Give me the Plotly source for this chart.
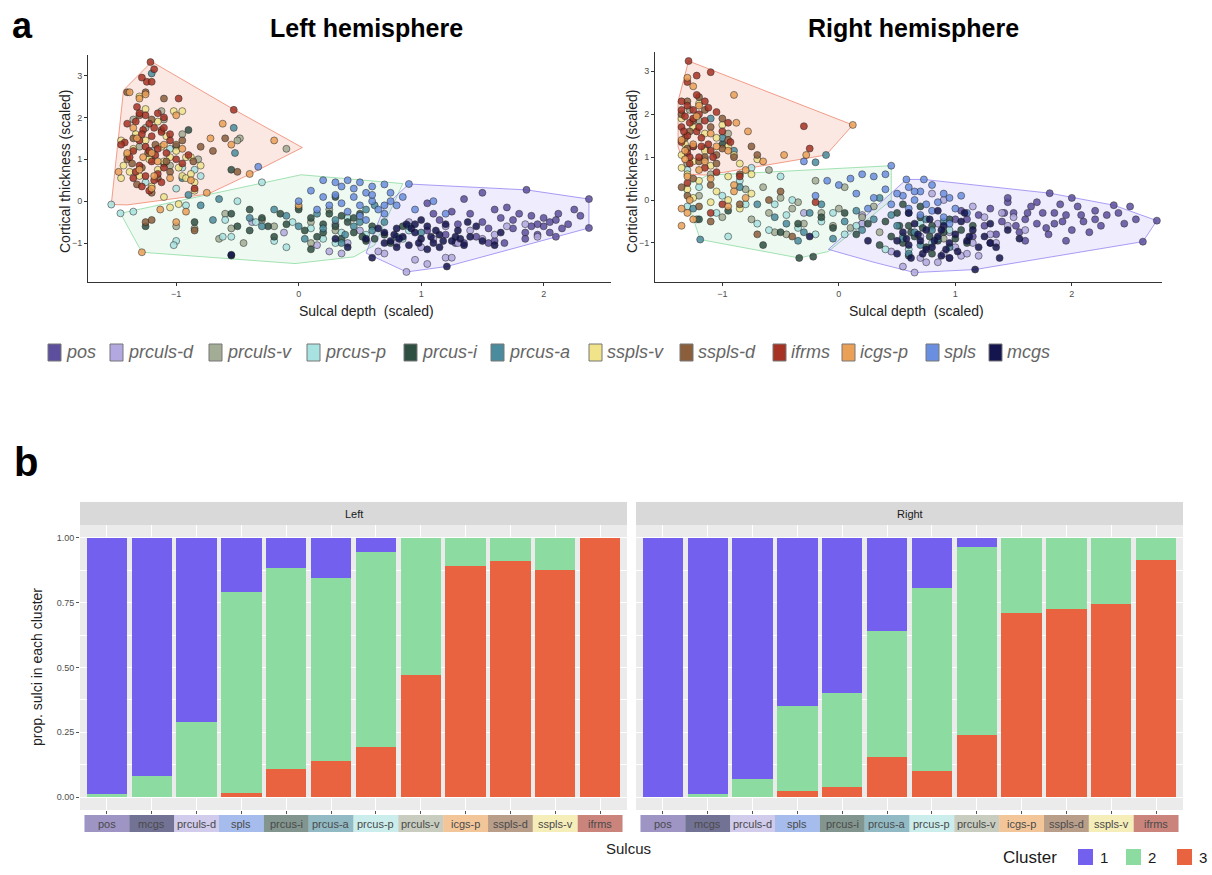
import plotly.graph_objects as go

W, H = 1212, 875

# ---------------- data ----------------
SULCI = ["pos", "prculs-d", "prculs-v", "prcus-p", "prcus-i", "prcus-a",
         "sspls-v", "sspls-d", "ifrms", "icgs-p", "spls", "mcgs"]
BAR_ORDER = ["pos", "mcgs", "prculs-d", "spls", "prcus-i", "prcus-a",
             "prcus-p", "prculs-v", "icgs-p", "sspls-d", "sspls-v", "ifrms"]
CLUSTERS = ["1", "2", "3"]

LEFT_C1 = [0.988, 0.92, 0.71, 0.21, 0.115, 0.155, 0.055, 0, 0, 0, 0, 0]
LEFT_C2 = [0.012, 0.08, 0.29, 0.775, 0.775, 0.705, 0.75, 0.53, 0.11, 0.09, 0.125, 0]
LEFT_C3 = [0, 0, 0, 0.015, 0.11, 0.14, 0.195, 0.47, 0.89, 0.91, 0.875, 1.0]
RIGHT_C1 = [1.0, 0.99, 0.93, 0.65, 0.60, 0.36, 0.195, 0.035, 0, 0, 0, 0]
RIGHT_C2 = [0, 0.01, 0.07, 0.325, 0.36, 0.485, 0.705, 0.725, 0.29, 0.275, 0.255, 0.085]
RIGHT_C3 = [0, 0, 0, 0.025, 0.04, 0.155, 0.10, 0.24, 0.71, 0.725, 0.745, 0.915]

# scatter points (sulcal depth, cortical thickness) - left hemisphere
L_ifrms = [(-1.21,3.32),(-1.18,3.15),(-1.24,2.85),(-1.2,2.85),(-1.28,2.95),(-0.98,2.45),(-0.53,2.18),(-1.15,2.1),
           (-1.25,2.05),(-1.33,1.9),(-1.22,1.85),(-1.18,1.75),(-1.27,1.7),(-1.4,1.85),(-1.12,1.65),(-1.2,1.55),
           (-1.3,1.45),(-1.05,1.6),(-1.42,1.4),(-1.35,1.2),(-1.25,1.3),(-1.15,1.25),(-1.08,1.15),(-1.38,1.05),
           (-1.2,0.95),(-1.3,0.85),(-1.1,0.8),(-1.0,1.0),(-1.25,0.6),(-1.35,0.55),(-1.18,0.5),(-1.28,0.35),
           (-1.22,0.25),(-0.95,0.9),(-0.85,0.3),(-1.12,0.45),(-1.45,1.35),(-1.32,2.25),(-1.1,2.0),(-0.9,1.1),
           (-1.28,1.6),(-1.17,1.1),(-1.05,1.45),(-1.33,0.7),(-1.15,0.65),(-1.22,1.2),(-1.1,1.75),(-1.3,2.1)]
L_sspls_v = [(-1.3,2.5),(-1.25,2.2),(-1.02,2.15),(-0.95,2.15),(-1.15,1.9),(-1.08,1.55),(-1.45,1.45),(-1.33,1.6),
             (-1.0,1.2),(-0.92,1.05),(-0.88,1.05),(-1.43,0.85),(-1.38,0.7),(-1.3,0.6),(-1.45,0.55),(-1.22,1.0),
             (-1.15,0.75),(-0.95,0.6),(-0.92,0.55),(-0.85,0.45),(-0.88,0.65),(-1.2,0.35),(-1.1,0.95),(-1.35,1.25),
             (-0.8,0.85),(-1.05,-0.15),(-0.98,-0.07),(-0.85,0.25),(-1.1,0.1),
             (-1.25,1.45),(-1.12,1.3),(-1.4,1.1),(-0.98,0.8),(-1.05,1.05)]
L_sspls_d = [(-1.4,2.6),(-1.25,2.6),(-1.1,2.45),(-1.3,2.05),(-1.2,1.95),(-1.12,1.7),(-1.35,1.5),(-1.0,1.35),
             (-0.7,1.2),(-0.6,1.5),(-0.8,1.3),(-1.4,1.0),(-1.28,0.8),(-1.05,0.7),(-1.2,0.2),(-1.32,0.4),
             (-0.95,1.45),(-1.17,1.35),(-0.5,0.7),(-0.86,0.95),(-1.25,-0.5),(-1.2,-0.45),(-0.85,-0.7),
             (-1.23,1.15),(-1.08,0.95),(-1.36,0.9),(-1.15,0.55)]
L_icgs_p = [(-1.38,2.6),(-1.3,2.45),(-1.25,2.55),(-1.0,2.05),(-0.62,1.85),(-0.72,1.5),(-0.2,1.45),(-0.55,1.35),
            (-1.35,1.75),(-1.4,1.15),(-1.47,0.7),(-1.2,1.15),(-1.1,1.35),(-1.3,0.75),(-1.2,0.3),(-0.4,0.65),
            (-0.88,0.5),(-0.75,0.2),(-1.05,0.55),(-1.15,0.95),(-1.28,-1.22),(-1.0,-0.5),(-1.13,-0.2),(0.0,-0.1),
            (-0.92,-0.25),(-1.27,1.05),(-1.18,0.6),(-1.32,1.5),(-0.95,1.25)]
L_prculs_v = [(-1.35,1.95),(-1.25,1.75),(-1.1,1.95),(-1.12,2.15),(-0.48,1.5),(-0.1,1.25),(-0.95,1.6),(-1.2,1.0),
              (-1.3,1.3),(-0.82,1.0),(-1.05,0.85),(-0.5,1.45),(-1.0,-0.6),(-0.85,-0.65),(-0.6,-0.3),(-0.55,-0.65),
              (-0.3,-0.45),(-0.2,-0.6),(0.1,-0.5),(0.3,-0.7),(0.1,-1.0),(-0.65,-0.9),(-0.45,-1.0),(0.25,-0.2)]
L_prcus_p = [(-0.8,0.6),(-0.85,0.75),(-1.05,1.25),(-0.95,0.8),(-1.2,1.2),(-1.25,0.45),(-1.53,-0.08),(-1.455,-0.29),
             (-1.35,-0.25),(-1.0,0.3),(-0.92,-0.1),(-0.6,-0.45),(-0.55,-0.85),(-0.3,0.45),(-0.5,0.0),(-0.35,-0.5),
             (-0.05,-0.5),(0.0,-0.15),(0.1,-0.65),(0.2,-0.9),(0.4,-0.4),(0.35,-0.75),(-0.62,-0.85),(-0.2,-0.95),
             (-0.1,-1.1),(0.55,-0.8),(0.3,-1.0),(-1.0,-0.95),(-1.02,-1.05),(0.85,-0.9),(0.9,-0.7)]
L_prcus_i = [(-0.55,0.75),(-0.9,1.7),(-1.1,0.9),(-1.25,-0.6),(-0.85,-0.5),(-0.55,-0.3),(-0.55,-1.3),(-0.5,-0.6),
             (-0.4,-0.2),(-0.4,-0.7),(-0.3,-0.4),(-0.25,-0.6),(-0.15,-0.3),(-0.1,-0.55),(0.0,-0.2),(0.05,-0.7),
             (0.1,-0.4),(0.15,-0.85),(0.2,-0.55),(0.25,-0.3),(0.3,-0.6),(0.35,-0.9),(0.4,-0.5),(0.45,-0.75),
             (0.5,-0.3),(0.55,-0.95),(0.6,-0.6),(0.1,-1.15),(-0.2,-0.85),(0.3,0.1),(0.7,-0.8),(0.75,-1.0),
             (0.85,-0.6),(0.45,-0.4),(0.52,-0.85),(0.2,-0.75),(0.35,-0.35),(0.62,-0.9)]
L_prcus_a = [(-0.53,1.75),(-0.52,1.15),(-1.2,3.05),(-1.0,1.3),(-0.95,0.55),(-0.9,0.15),(-0.8,-0.1),(-0.65,0.05),
             (-0.7,-0.45),(-0.4,-0.4),(-0.3,-0.6),(-0.2,-0.2),(-0.1,-0.35),(0.0,-0.6),(0.05,-0.9),(0.15,-0.3),
             (0.2,-0.65),(0.3,-0.45),(0.38,-0.8),(0.45,-0.6),(0.5,-0.5),(0.55,-0.2),(0.6,-0.7),(0.35,-1.0),
             (0.7,-0.5),(0.8,-0.85),(0.9,-0.6),(1.0,-0.75),(0.62,-0.1)]
L_spls = [(-0.33,0.82),(0.1,0.25),(0.2,0.5),(0.3,0.45),(0.4,0.5),(0.5,0.45),(0.6,0.35),(0.7,0.4),(0.75,0.2),
          (0.2,0.1),(0.3,0.15),(0.35,-0.05),(0.45,0.1),(0.5,-0.1),(0.55,0.2),(0.6,0.0),(0.65,-0.2),(0.4,-0.25),
          (0.25,-0.1),(0.15,-0.2),(0.7,-0.1),(0.5,-0.35),(0.0,0.0),(0.8,-0.1),(0.85,0.1),(0.9,0.41),(0.95,-0.2),
          (1.1,0.0),(1.2,-0.3),(0.75,0.0),(0.45,0.3),(0.6,0.15),(0.35,0.35),(0.7,-0.3),(0.55,-0.45)]
L_prculs_d = [(0.88,-1.69),(1.2,-1.35),(1.25,-1.35),(0.95,-1.4),(1.0,-1.1),(1.1,-0.9),(0.8,-1.0),(1.3,-1.0),
              (1.4,-0.7),(1.5,-0.9),(1.6,-0.8),(1.7,-0.6),(1.85,-0.55),(0.9,-0.5),(1.2,-0.6),(0.7,-1.25),
              (0.65,-1.2),(1.05,-1.5),(1.95,-0.85),(-0.38,-0.5),(0.25,-1.2),(0.35,-1.25),(0.4,-1.0),(0.15,-1.05),
              (0.5,-0.7),(-0.12,-0.75),(0.3,-0.55)]
L_mcgs = [(0.7,-0.75),(0.75,-0.95),(0.8,-0.65),(0.85,-0.85),(0.9,-1.05),(0.95,-0.75),(1.0,-0.9),(1.05,-0.6),
          (1.1,-1.0),(1.15,-0.8),(1.2,-0.55),(1.25,-0.95),(1.3,-0.7),(1.35,-1.05),(1.4,-0.85),(1.45,-0.6),
          (1.5,-0.95),(1.6,-1.05),(1.65,-0.75),(0.6,-1.35),(0.8,-1.1),(0.92,-0.65),(1.05,-1.15),(1.21,-1.56),
          (1.0,-0.45),(1.15,-1.1),(0.7,-1.0),(0.55,-0.9),(0.88,-0.55),(1.28,-0.85),(1.38,-0.5),(1.12,-0.7),
          (-0.55,-1.28),(0.3,-0.9),(0.4,-1.1),(0.78,-0.8),(0.98,-1.0),(1.08,-0.85),(1.18,-0.95),(0.82,-0.9),
          (1.32,-0.9),(0.95,-0.55),(0.65,-0.65)]
L_pos = [(1.05,-0.05),(1.35,0.05),(1.5,0.2),(1.86,0.27),(2.37,0.05),(2.37,-0.64),(2.25,-0.2),(2.1,-0.45),
         (2.0,-0.6),(1.9,-0.35),(1.95,-0.8),(2.05,-0.75),(2.15,-0.65),(2.2,-0.55),(1.85,-0.75),(1.75,-0.65),
         (1.8,-0.3),(1.65,-0.4),(1.6,-0.2),(1.5,-0.5),(1.45,-0.85),(1.4,-0.3),(1.3,-0.55),(1.25,-0.25),
         (1.2,-0.8),(1.15,-0.45),(1.05,-0.7),(1.1,-0.3),(1.35,-1.0),(1.55,-1.0),(1.68,-1.0),(1.85,-0.9),
         (2.1,-0.85),(2.3,-0.35),(1.6,-0.95),(1.95,-0.55),(1.7,-0.15),(2.05,-0.5),(1.28,-1.0),
         (1.75,-0.45),(2.0,-0.4),(1.9,-0.6),(2.12,-0.3),(1.55,-0.65)]

# right hemisphere
R_ifrms = [(-1.29,3.24),(-1.1,2.98),(-1.3,2.75),(-1.22,2.9),(-1.35,2.3),(-1.3,2.2),(-1.25,2.1),(-1.32,1.95),
           (-1.2,2.0),(-1.15,1.85),(-1.28,1.8),(-1.35,1.7),(-1.22,1.6),(-1.3,1.5),(-1.18,1.45),(-1.35,1.35),
           (-1.25,1.25),(-1.12,1.3),(-1.3,1.1),(-1.2,1.0),(-1.1,1.15),(-1.05,2.05),(-1.0,1.6),(-0.93,1.35),
           (-0.3,1.72),(-0.25,1.2),(-1.28,0.85),(-1.15,0.75),(-1.05,0.65),(-0.85,0.55),(-1.3,0.4),(-1.22,2.45),
           (-1.15,2.3),(-0.95,1.8),(-1.08,1.0),(-1.0,-0.1),(-0.2,-0.05),(-1.1,-0.3),
           (-1.25,1.9),(-1.33,1.6),(-1.18,1.25),(-1.28,1.0),(-1.12,2.15),(-1.35,2.1),(-1.2,1.7)]
R_icgs_p = [(-1.3,2.85),(-1.25,2.65),(-0.9,2.45),(-1.2,2.2),(-0.88,1.8),(-0.78,1.6),(0.12,1.75),(-0.47,1.05),
            (-0.28,1.05),(-1.35,1.4),(-1.25,1.3),(-1.1,1.55),(-1.05,1.25),(-0.95,1.15),(-1.32,0.95),(-1.2,0.7),
            (-1.1,0.5),(-0.8,0.7),(-0.65,0.9),(-1.3,0.55),(-0.9,0.35),(-1.3,-0.3),(-1.35,-0.6),(-1.28,0.0),
            (-0.9,0.2),(-0.8,0.05),(-1.35,-0.2),(-0.95,-0.15),(-1.25,-0.45),(-1.32,1.15),(-1.22,1.95),(-1.15,0.9)]
R_sspls_d = [(-1.3,2.3),(-1.35,2.0),(-1.2,2.4),(-1.15,2.1),(-1.28,1.6),(-1.1,1.7),(-1.0,1.9),(-0.95,1.4),
             (-1.3,1.2),(-1.2,0.9),(-1.05,0.85),(-0.9,1.0),(-1.25,0.5),(-0.85,0.6),(-0.7,1.05),(-1.35,0.3),
             (-1.1,0.35),(-1.0,1.2),(-0.75,1.25),(-1.15,1.0),(-1.3,0.1),(-1.2,-0.15),(-0.85,-0.1),(-0.6,0.0),
             (-0.7,-0.8),(-1.1,-0.5),(-0.5,0.2),(-0.4,-0.85),(-1.25,1.85),(-1.32,1.45),(-1.05,1.05)]
R_sspls_v = [(-1.2,2.25),(-1.35,1.9),(-1.25,1.7),(-1.15,1.55),(-1.05,1.45),(-1.32,1.3),(-0.95,1.25),(-0.9,1.05),
             (-1.35,1.05),(-1.25,0.9),(-1.1,0.8),(-1.2,0.45),(-1.3,0.6),(-0.95,0.55),(-0.7,0.95),(-0.85,0.85),
             (-1.0,1.75),(-1.15,1.15),(-0.75,0.6),(-1.35,0.75),(-1.3,0.25),(-1.25,0.05),(-1.1,-0.05),(-0.95,0.0),
             (-0.85,-0.2),(-0.75,0.15),(-1.05,0.2)]
R_prculs_v = [(-1.28,2.1),(-1.15,1.2),(-0.95,1.55),(-1.3,0.85),(-1.1,0.6),(-0.6,0.7),(-1.2,1.85),(-1.2,0.1),
              (-1.0,-0.4),(-0.8,0.25),(-0.65,0.3),(-0.6,-0.3),(-0.5,0.05),(-0.4,-0.2),(-0.35,-0.05),(-0.3,-0.55),
              (-0.45,-0.8),(-0.2,0.45),(-0.15,-0.3),(-0.05,-0.6),(0.0,-0.2),(0.1,-0.65),(0.2,-0.4),(0.3,-0.15),
              (0.35,-0.75),(-0.55,-0.75),(0.05,0.3),(-0.75,-0.45),(0.9,-0.9)]
R_prcus_p = [(-1.3,0.7),(-1.15,0.95),(-0.75,0.75),(-1.3,-0.15),(-1.22,-0.45),(-1.2,0.3),(-1.05,-0.3),(-1.0,0.1),
             (-0.95,-0.85),(-0.8,-0.1),(-0.7,-0.55),(-0.6,-0.7),(-0.55,-0.1),(-0.45,-0.35),(-0.35,-0.65),
             (-0.2,-0.8),(-0.15,-0.5),(-0.05,-0.3),(0.05,-0.8),(0.15,-0.6),(-0.5,0.55),(-0.85,0.45),(-0.4,0.0),
             (0.55,-0.85),(0.7,-0.55),(0.8,-1.0),(0.95,-0.7),(0.4,-1.15),(0.6,-1.15)]
R_prcus_a = [(-1.1,1.9),(-1.0,1.45),(-0.9,1.15),(-1.25,1.25),(-0.11,1.05),(-0.2,0.88),(-1.25,-0.2),(-1.19,-0.92),
             (-0.85,0.3),(-0.7,-0.1),(-0.55,-0.4),(-0.45,-0.55),(-0.3,-0.75),(-0.25,-0.3),(-0.15,-0.1),
             (-0.05,-0.9),(0.05,-0.5),(0.15,-0.25),(0.2,-0.7),(0.3,-0.45),(0.35,0.05),(-0.35,-0.95),(0.5,-0.6),
             (0.55,-0.9),(0.6,-0.3),(0.65,-0.75),(0.7,-1.05),(0.75,-0.45),(0.8,-0.7),(0.85,-0.9),(0.9,-0.5),
             (0.95,-1.1),(0.6,-1.25),(0.45,-0.35)]
R_prcus_i = [(-1.0,1.3),(-1.2,-0.45),(-0.95,-0.25),(-0.65,-1.05),(-0.5,-0.75),(-0.35,-0.55),(-0.34,-1.35),
             (-0.22,-1.32),(-0.15,-0.4),(-0.05,-0.65),(0.05,-0.3),(0.15,-0.8),(0.25,-0.55),(0.4,-0.5),(0.45,-0.85),
             (0.5,-0.3),(0.55,-1.0),(0.6,-0.6),(0.65,-0.85),(0.7,-0.4),(0.75,-1.1),(0.8,-0.6),(0.85,-0.95),
             (0.9,-0.75),(0.95,-0.45),(1.0,-0.9),(1.05,-0.7),(1.1,-1.0),(0.7,-0.15),(0.55,-0.1),(0.35,-1.05),
             (1.15,-0.6),(0.6,-1.3),(0.8,-1.25),(0.62,-0.75),(0.72,-0.65),(0.52,-0.6),(0.78,-0.85)]
R_spls = [(-0.3,0.9),(-0.1,0.45),(0.0,0.35),(0.1,0.5),(0.2,0.6),(0.3,0.55),(0.4,0.6),(0.45,0.8),(-0.2,0.1),
          (0.15,0.15),(0.3,0.05),(0.4,0.25),(0.25,-0.2),(0.45,-0.1),(0.58,0.48),(0.73,0.48),(0.6,0.3),(0.7,0.2),
          (0.8,0.35),(0.9,0.15),(0.65,0.0),(0.75,-0.1),(0.85,-0.05),(0.95,0.05),(1.0,-0.2),(0.6,-0.2),
          (0.7,-0.35),(0.8,-0.25),(0.9,-0.4),(1.05,0.1),(0.55,0.1),(0.65,0.2),(0.5,0.15),(1.1,-0.3),(0.95,-0.55)]
R_prculs_d = [(0.2,-0.35),(0.45,-1.2),(0.55,-1.55),(0.75,-1.45),(0.65,-1.69),(0.85,-0.55),(0.9,-1.25),
              (0.95,-1.35),(1.0,-1.1),(1.05,-1.3),(1.1,-1.25),(1.15,-1.0),(1.2,-1.3),(1.25,-0.4),(0.8,0.15),
              (0.9,0.0),(1.4,-0.3),(1.5,-0.4),(1.6,-0.7),(1.3,-0.8),(0.7,-0.85),(1.45,-0.6),(1.15,-0.15),
              (0.95,-0.75),(0.7,-1.35),(1.35,-1.0),(0.85,-1.45),(-0.3,-0.3),(0.2,-0.55)]
R_mcgs = [(0.5,-0.95),(0.55,-0.75),(0.6,-1.05),(0.65,-0.55),(0.7,-0.95),(0.72,-1.25),(0.75,-0.7),(0.8,-1.1),
          (0.85,-0.85),(0.88,-1.3),(0.9,-0.6),(0.95,-1.0),(1.0,-0.8),(1.02,-1.2),(1.05,-0.5),(1.1,-0.95),
          (1.15,-0.7),(1.2,-1.1),(1.25,-0.85),(1.3,-1.0),(1.17,-1.62),(1.38,-1.35),(1.35,-1.1),(1.45,-0.7),
          (1.55,-0.9),(0.6,-0.3),(0.78,-0.45),(0.5,-1.25),(0.62,-1.35),(0.95,-1.35),(1.08,-0.3),(0.25,-0.95),
          (0.85,-0.25),(1.3,-0.55),(-0.25,-0.85),(0.68,-0.8),(0.82,-0.95),(0.92,-1.15),(0.75,-1.15),
          (0.88,-0.7),(1.12,-0.85),(0.58,-0.9)]
R_pos = [(1.81,0.16),(2.36,-0.12),(2.73,-0.48),(2.61,-0.97),(2.55,-0.45),(2.5,-0.15),(2.45,-0.55),(2.3,-0.35),
         (2.25,-0.6),(2.2,-0.25),(2.1,-0.5),(2.05,-0.15),(2.0,-0.7),(1.95,-0.35),(1.9,-0.1),(1.85,-0.55),
         (1.8,-0.8),(1.75,-0.3),(1.7,-0.55),(1.65,-0.15),(1.6,-0.45),(1.55,-0.75),(1.5,-0.3),(1.45,-0.05),
         (1.4,-0.5),(1.35,-0.8),(1.3,-0.2),(1.25,-0.6),(1.2,-0.35),(1.15,-0.85),(1.1,-0.45),(1.45,0.05),
         (1.95,-0.95),(2.15,-0.75),(1.6,-0.95),(1.3,-1.0),(1.0,-0.45),(2.4,-0.3),(2.0,0.05),(1.7,-0.05),
         (1.05,-0.25),(1.52,-0.6),(1.85,-0.3),(2.2,-0.45),(1.62,-0.3),(1.92,-0.5),(2.08,-0.35),(1.78,-0.65),
         (1.42,-0.3)]

# convex hulls (vertices)
L_HULL_3 = [(-1.53,-0.08),(-1.43,2.65),(-1.2,3.33),(-0.53,2.19),(0.03,1.28),(-0.38,0.67),(-0.74,0.17),(-1.4,-0.09)]
L_HULL_2 = [(-1.455,-0.29),(-1.28,-1.22),(-0.03,-1.49),(0.45,-1.33),(0.62,-1.05),(0.85,0.42),(0.02,0.63)]
L_HULL_1 = [(0.90,0.41),(1.86,0.27),(2.37,0.05),(2.37,-0.64),(1.21,-1.56),(0.88,-1.69),(0.55,-1.24),(0.70,-0.13)]
R_HULL_3 = [(-1.29,3.24),(0.12,1.75),(-0.11,1.05),(-1.13,0.58),(-1.3,0.6),(-1.38,1.24),(-1.38,2.3)]
R_HULL_2 = [(-1.34,0.31),(-1.19,-0.92),(-0.34,-1.35),(-0.09,-1.2),(0.45,0.0),(0.45,0.8),(-1.12,0.58)]
R_HULL_1 = [(0.58,0.48),(0.73,0.48),(1.81,0.16),(2.36,-0.12),(2.73,-0.48),(2.61,-0.97),(1.17,-1.62),
            (0.65,-1.69),(0.3,-1.45),(-0.09,-1.15)]

LEFT_PTS = {"pos": L_pos, "prculs-d": L_prculs_d, "prculs-v": L_prculs_v, "prcus-p": L_prcus_p,
            "prcus-i": L_prcus_i, "prcus-a": L_prcus_a, "sspls-v": L_sspls_v, "sspls-d": L_sspls_d,
            "ifrms": L_ifrms, "icgs-p": L_icgs_p, "spls": L_spls, "mcgs": L_mcgs}
RIGHT_PTS = {"pos": R_pos, "prculs-d": R_prculs_d, "prculs-v": R_prculs_v, "prcus-p": R_prcus_p,
             "prcus-i": R_prcus_i, "prcus-a": R_prcus_a, "sspls-v": R_sspls_v, "sspls-d": R_sspls_d,
             "ifrms": R_ifrms, "icgs-p": R_icgs_p, "spls": R_spls, "mcgs": R_mcgs}

# ---------------- styles ----------------
SCOL = {"pos": "#5D4E9E", "prculs-d": "#B3A9E0", "prculs-v": "#A3AC94", "prcus-p": "#A9E3E1",
        "prcus-i": "#2F4F43", "prcus-a": "#4A8C9E", "sspls-v": "#F0E38A", "sspls-d": "#8B5E3C",
        "ifrms": "#A63224", "icgs-p": "#EBA057", "spls": "#6A8FE0", "mcgs": "#14144F"}
CCOL = {"1": "#7460EE", "2": "#8CDBA0", "3": "#E96341"}
HULL_FILL = {"1": "rgba(116,96,238,0.12)", "2": "rgba(140,219,160,0.15)", "3": "rgba(233,99,65,0.15)"}
HULL_LINE = {"1": "rgba(116,96,238,0.6)", "2": "rgba(140,219,160,0.8)", "3": "rgba(233,99,65,0.6)"}
FONT = "Liberation Sans, Arial, sans-serif"


def hexrgba(h, a):
    h = h.lstrip("#")
    return "rgba(%d,%d,%d,%.2f)" % (int(h[0:2], 16), int(h[2:4], 16), int(h[4:6], 16), a)


def px(x):
    return x / W


def py(y):
    return 1 - y / H


fig = go.Figure()

# hulls + points
for xa, ya, hulls, pts in [("x", "y", [("3", L_HULL_3), ("2", L_HULL_2), ("1", L_HULL_1)], LEFT_PTS),
                           ("x2", "y2", [("3", R_HULL_3), ("2", R_HULL_2), ("1", R_HULL_1)], RIGHT_PTS)]:
    for cl, hull in hulls:
        hx = [p[0] for p in hull] + [hull[0][0]]
        hy = [p[1] for p in hull] + [hull[0][1]]
        fig.add_trace(go.Scatter(x=hx, y=hy, mode="lines", fill="toself", fillcolor=HULL_FILL[cl],
                                 line=dict(color=HULL_LINE[cl], width=1), xaxis=xa, yaxis=ya,
                                 showlegend=False, hoverinfo="skip"))
    for s in SULCI:
        p = pts[s]
        fig.add_trace(go.Scatter(x=[q[0] for q in p], y=[q[1] for q in p], mode="markers", name=s,
                                 marker=dict(size=7, color=SCOL[s], opacity=0.85,
                                             line=dict(color="rgba(20,20,20,0.8)", width=0.7)),
                                 xaxis=xa, yaxis=ya, showlegend=False))

# bars
for xa, ya, vals in [("x3", "y3", {"1": LEFT_C1, "2": LEFT_C2, "3": LEFT_C3}),
                     ("x4", "y4", {"1": RIGHT_C1, "2": RIGHT_C2, "3": RIGHT_C3})]:
    for cl in ["3", "2", "1"]:
        fig.add_trace(go.Bar(x=BAR_ORDER, y=vals[cl], name=cl, marker=dict(color=CCOL[cl], line=dict(width=0)),
                             width=0.9, xaxis=xa, yaxis=ya, showlegend=False))

axis_common = dict(showgrid=False, zeroline=False, showline=True, linecolor="#333", linewidth=1,
                   ticks="outside", ticklen=3, tickcolor="#333", tickfont=dict(size=9, color="#4d4d4d", family=FONT))

bar_y_common = dict(range=[-0.05, 1.05], tickvals=[0, 0.25, 0.5, 0.75, 1.0],
                    ticktext=["0.00", "0.25", "0.50", "0.75", "1.00"], showgrid=True, gridcolor="white",
                    gridwidth=1.1, zeroline=False, showline=False,
                    minor=dict(tick0=0.125, dtick=0.25, showgrid=True, gridcolor="white", gridwidth=0.5),
                    tickfont=dict(size=9, color="#4d4d4d", family=FONT))
bar_x_common = dict(type="category", categoryorder="array", categoryarray=BAR_ORDER, range=[-0.6, 11.6],
                    showticklabels=False, ticks="outside", ticklen=3, tickcolor="#555", showgrid=True,
                    gridcolor="white", gridwidth=1.1, zeroline=False, showline=False)

fig.update_layout(
    width=W, height=H, margin=dict(l=0, r=0, t=0, b=0), paper_bgcolor="white", plot_bgcolor="white",
    barmode="stack", bargap=0.1, showlegend=False, font=dict(family=FONT),
    xaxis=dict(domain=[px(88), px(611)], range=[-1.72, 2.55], tickvals=[-1, 0, 1, 2], anchor="y", **axis_common),
    yaxis=dict(domain=[py(282), py(55)], range=[-1.93, 3.49], tickvals=[-1, 0, 1, 2, 3], anchor="x", **axis_common),
    xaxis2=dict(domain=[px(655), px(1162)], range=[-1.578, 2.774], tickvals=[-1, 0, 1, 2], anchor="y2", **axis_common),
    yaxis2=dict(domain=[py(282), py(52)], range=[-1.91, 3.45], tickvals=[-1, 0, 1, 2, 3], anchor="x2", **axis_common),
    xaxis3=dict(domain=[px(80), px(627)], anchor="y3", **bar_x_common),
    yaxis3=dict(domain=[py(810), py(525)], anchor="x3", ticks="outside", ticklen=3, tickcolor="#555", **bar_y_common),
    xaxis4=dict(domain=[px(636), px(1183)], anchor="y4", **bar_x_common),
    yaxis4=dict(domain=[py(810), py(525)], anchor="x4", showticklabels=False, ticks="", **bar_y_common),
)

shapes = []
ann = []


def A(text, x, y, size, color="#222", xanchor="center", textangle=0, xref="paper"):
    xv = px(x) if xref == "paper" else x
    return dict(text=text, xref=xref, yref="paper", x=xv, y=py(y), xanchor=xanchor, yanchor="middle",
                textangle=textangle, showarrow=False, font=dict(size=size, color=color))


# bar panel backgrounds and strips
for x0, x1, lab in [(80, 627, "Left"), (636, 1183, "Right")]:
    shapes.append(dict(type="rect", xref="paper", yref="paper", x0=px(x0), x1=px(x1), y0=py(810), y1=py(525),
                       fillcolor="#EBEBEB", line=dict(width=0), layer="below"))
    shapes.append(dict(type="rect", xref="paper", yref="paper", x0=px(x0), x1=px(x1), y0=py(525), y1=py(502),
                       fillcolor="#D9D9D9", line=dict(width=0), layer="below"))
    ann.append(A(lab, (x0 + x1) / 2, 514, 11, "#1a1a1a"))

# colored sulcus label boxes under bars
for xa in ["x3", "x4"]:
    for i, s in enumerate(BAR_ORDER):
        shapes.append(dict(type="rect", xref=xa, yref="paper", x0=i - 0.5, x1=i + 0.5, y0=py(832), y1=py(815),
                           fillcolor=hexrgba(SCOL[s], 0.6), line=dict(width=0), layer="below"))
        ann.append(A(s, s, 823.5, 11, "#4a4a4a", xref=xa))

# top legend (sulci)
LEG_X = [48, 110, 209, 307, 404, 491, 589, 680, 773, 842, 926, 989]
for s, lx in zip(SULCI, LEG_X):
    shapes.append(dict(type="rect", xref="paper", yref="paper", x0=px(lx), x1=px(lx + 13), y0=py(361), y1=py(344),
                       fillcolor=SCOL[s], line=dict(color="#777", width=1)))
    ann.append(A("<i>%s</i>" % s, lx + 16, 352.5, 18, "#666", xanchor="left"))

# cluster legend
ann.append(A("Cluster", 1030, 857, 17, "#1a1a1a"))
for cl, lx in zip(CLUSTERS, [1078, 1126, 1177]):
    shapes.append(dict(type="rect", xref="paper", yref="paper", x0=px(lx), x1=px(lx + 15), y0=py(865), y1=py(849),
                       fillcolor=CCOL[cl], line=dict(width=0)))
    ann.append(A(cl, lx + 20, 857, 15, "#1a1a1a", xanchor="left"))

# titles and labels
ann += [
    A("<b>a</b>", 10, 25, 36, "black", xanchor="left"),
    A("<b>b</b>", 12, 462, 40, "black", xanchor="left"),
    A("<b>Left hemisphere</b>", 366, 28, 25, "black"),
    A("<b>Right hemisphere</b>", 913, 28, 25, "black"),
    A("Cortical thickness (scaled)", 65, 172, 14, textangle=-90),
    A("Cortical thickness (scaled)", 632, 172, 14, textangle=-90),
    A("Sulcal depth  (scaled)", 366, 311, 14),
    A("Sulcal depth  (scaled)", 916, 311, 14),
    A("prop. sulci in each cluster", 37, 667, 14, textangle=-90),
    A("Sulcus", 628, 848, 15),
]

fig.update_layout(shapes=shapes, annotations=ann)
fig.write_html("out.html", config={"displayModeBar": False},
               post_script="document.body.style.margin='0px';document.body.style.overflow='hidden';")
